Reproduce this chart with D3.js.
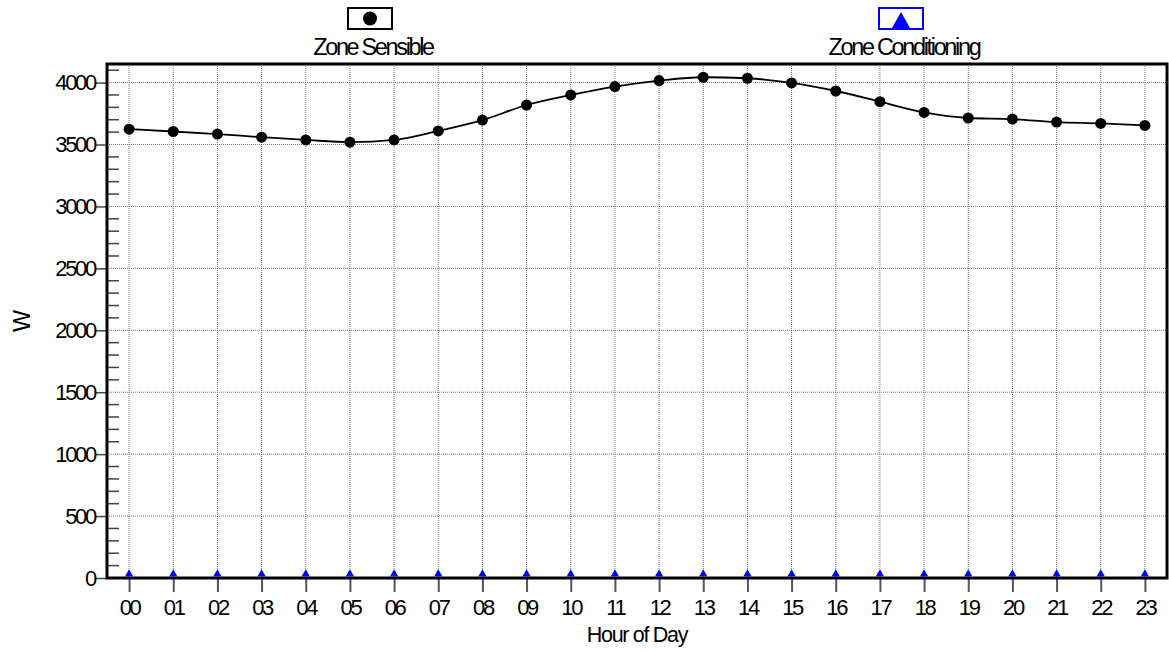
<!DOCTYPE html>
<html lang="en">
<head>
    <meta charset="UTF-8">
    <title>Zone loads by hour</title>
    <script src="https://cdnjs.cloudflare.com/ajax/libs/d3/7.8.5/d3.min.js"></script>
    <style>
        body { margin: 0; background: #fff; }
        text { font-family: 'Liberation Sans', Arial, sans-serif; font-size: 23.5px; letter-spacing: -2.35px; fill: #000; }
    </style>
</head>
<body>
<div id="chart"></div>
<script>

    // hours on the x axis
    const hours = ['00','01','02','03','04','05','06','07','08','09','10','11',
                   '12','13','14','15','16','17','18','19','20','21','22','23'];

    // series values (W)
    const zoneSensible = [3624, 3605, 3584, 3559, 3537, 3519, 3537, 3610, 3697, 3819, 3900, 3968,
                          4016, 4043, 4035, 3997, 3932, 3846, 3759, 3714, 3705, 3681, 3670, 3654];
    const zoneConditioning = [0, 0, 0, 0, 0, 0, 0, 0, 0, 0, 0, 0,
                              0, 0, 0, 0, 0, 0, 0, 0, 0, 0, 0, 0];

    const seriesNames = ['Zone Sensible', 'Zone Conditioning'];
    const yTicks = [0, 500, 1000, 1500, 2000, 2500, 3000, 3500, 4000];

    const width = 1169, height = 652;
    const plotLeft = 107, plotRight = 1167, plotTop = 64, plotBottom = 578;

    const svg = d3.select('#chart').append('svg')
        .attr('width', width)
        .attr('height', height);

    const x = d3.scaleLinear().domain([-0.5, 23.5]).range([plotLeft, plotRight]);
    const y = d3.scaleLinear().domain([0, 4150]).range([plotBottom, plotTop]);

    // dotted grid
    const grid = svg.append('g');
    grid.selectAll('.vgrid')
        .data(hours)
        .enter().append('line')
        .attr('x1', (d, i) => x(i)).attr('x2', (d, i) => x(i))
        .attr('y1', plotTop).attr('y2', plotBottom)
        .attr('stroke', '#777').attr('stroke-width', 1).attr('stroke-dasharray', '1,1');
    grid.selectAll('.hgrid')
        .data(yTicks.filter(d => d > 0))
        .enter().append('line')
        .attr('x1', plotLeft).attr('x2', plotRight)
        .attr('y1', d => y(d)).attr('y2', d => y(d))
        .attr('stroke', '#777').attr('stroke-width', 1).attr('stroke-dasharray', '1,1');

    // minor ticks every 100, pointing into the plot
    const minor = d3.range(100, 4150, 100).filter(d => d % 500 !== 0);
    svg.append('g').selectAll('line')
        .data(minor)
        .enter().append('line')
        .attr('x1', plotLeft).attr('x2', plotLeft + 12)
        .attr('y1', d => y(d)).attr('y2', d => y(d))
        .attr('stroke', '#444').attr('stroke-width', 1.5);

    // y axis
    const yAxis = svg.append('g')
        .attr('transform', `translate(${plotLeft},0)`)
        .call(d3.axisLeft(y).tickValues(yTicks).tickSize(12).tickPadding(0).tickFormat(d3.format('d')));
    yAxis.select('.domain').remove();
    yAxis.selectAll('.tick line').attr('stroke', '#444').attr('stroke-width', 1.5);
    yAxis.selectAll('.tick text').attr('fill', '#000')
        .style('font-size', '22px').style('letter-spacing', '-2.3px');

    // x axis
    const xAxis = svg.append('g')
        .attr('transform', `translate(0,${plotBottom})`)
        .call(d3.axisBottom(x).tickValues(d3.range(hours.length)).tickSize(14).tickPadding(7)
            .tickFormat(i => hours[i]));
    xAxis.select('.domain').remove();
    xAxis.selectAll('.tick line').attr('stroke', '#555').attr('stroke-width', 2);
    xAxis.selectAll('.tick text').attr('fill', '#000')
        .style('font-size', '22px').style('letter-spacing', '-2.3px');

    // frame
    svg.append('rect')
        .attr('x', plotLeft).attr('y', plotTop)
        .attr('width', plotRight - plotLeft).attr('height', plotBottom - plotTop)
        .attr('fill', 'none').attr('stroke', '#000').attr('stroke-width', 3);

    // axis titles
    svg.append('text')
        .attr('x', x(11.5)).attr('y', 642)
        .attr('text-anchor', 'middle')
        .style('font-size', '21.5px').style('letter-spacing', '-1.3px')
        .text('Hour of Day');
    svg.append('text')
        .attr('transform', 'translate(30,322) rotate(-90)')
        .attr('text-anchor', 'middle')
        .text('W');

    // Zone Sensible line + markers
    const line = d3.line()
        .x((d, i) => x(i))
        .y(d => y(d))
        .curve(d3.curveMonotoneX);

    svg.append('path')
        .datum(zoneSensible)
        .attr('d', line)
        .attr('fill', 'none')
        .attr('stroke', '#000')
        .attr('stroke-width', 1.8);

    svg.append('g').selectAll('circle')
        .data(zoneSensible)
        .enter().append('circle')
        .attr('cx', (d, i) => x(i))
        .attr('cy', d => y(d))
        .attr('r', 5.5)
        .attr('fill', '#000');

    // Zone Conditioning triangles
    const tri = d3.symbol().type(d3.symbolTriangle).size(30);
    svg.append('g').selectAll('path')
        .data(zoneConditioning)
        .enter().append('path')
        .attr('d', tri)
        .attr('transform', (d, i) => `translate(${x(i)},${y(d) - 4})`)
        .attr('fill', '#0000ff');

    // legend
    const legend = svg.append('g');
    const legendX = [370, 901];

    legend.append('rect')
        .attr('x', legendX[0] - 22).attr('y', 8).attr('width', 44).attr('height', 21)
        .attr('fill', '#fff').attr('stroke', '#000').attr('stroke-width', 2);
    legend.append('circle')
        .attr('cx', legendX[0]).attr('cy', 18.5).attr('r', 7)
        .attr('fill', '#000');

    legend.append('rect')
        .attr('x', legendX[1] - 22).attr('y', 8).attr('width', 44).attr('height', 21)
        .attr('fill', '#fff').attr('stroke', '#0000ff').attr('stroke-width', 2);
    legend.append('path')
        .attr('d', `M${legendX[1]},12 L${legendX[1] + 9},28 L${legendX[1] - 9},28 Z`)
        .attr('fill', '#0000ff');

    legend.selectAll('.ltext')
        .data(seriesNames)
        .enter().append('text')
        .attr('x', (d, i) => legendX[i] + 3)
        .attr('y', 55)
        .attr('text-anchor', 'middle')
        .text(d => d);

</script>
</body>
</html>
